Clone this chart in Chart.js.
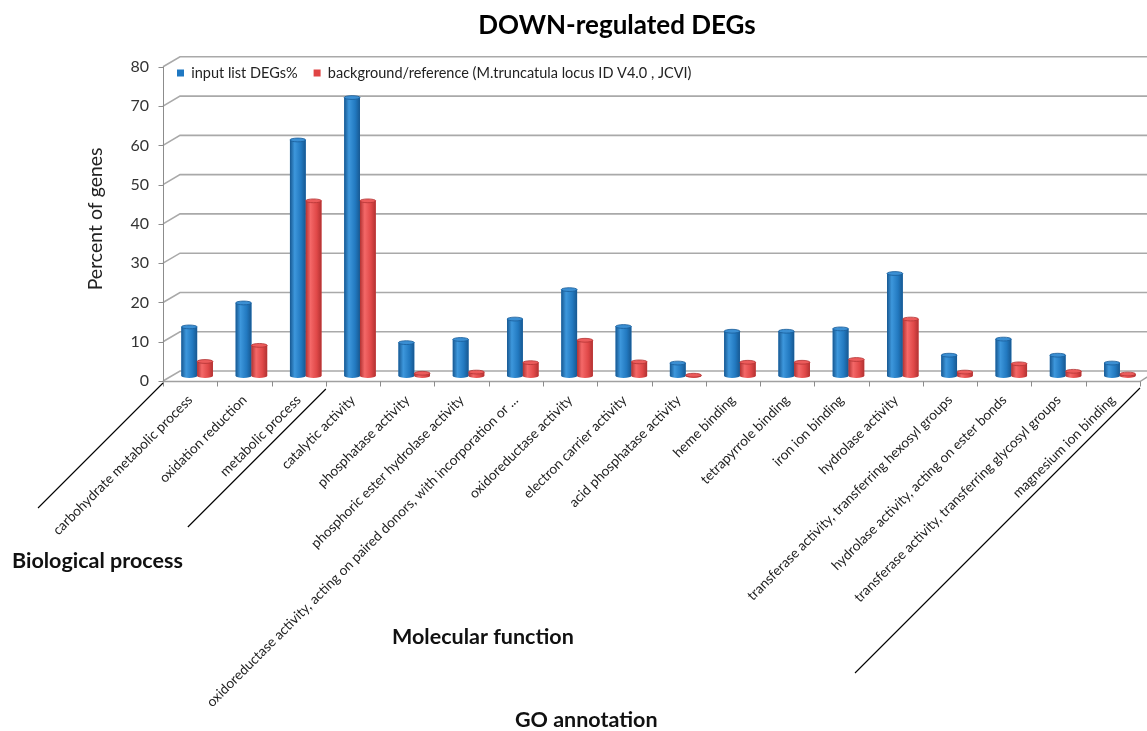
<!DOCTYPE html>
<html>
<head>
<meta charset="utf-8">
<script src="https://cdn.jsdelivr.net/npm/chart.js@4.4.1/dist/chart.umd.min.js"></script>
<style>
  html, body { margin: 0; padding: 0; background: #ffffff; }
  #wrap { width: 1147px; height: 731px; position: relative; }
</style>
</head>
<body>
<div id="wrap"><canvas id="chart" width="1147" height="731"></canvas></div>
<script>
// GO terms on the category axis
const categories = [
  'carbohydrate metabolic process',
  'oxidation reduction',
  'metabolic process',
  'catalytic activity',
  'phosphatase activity',
  'phosphoric ester hydrolase activity',
  'oxidoreductase activity, acting on paired donors, with incorporation or ...',
  'oxidoreductase activity',
  'electron carrier activity',
  'acid phosphatase activity',
  'heme binding',
  'tetrapyrrole binding',
  'iron ion binding',
  'hydrolase activity',
  'transferase activity, transferring hexosyl groups',
  'hydrolase activity, acting on ester bonds',
  'transferase activity, transferring glycosyl groups',
  'magnesium ion binding'
];

// Percent of genes per GO term
const inputListPct = [12.5, 18.6, 60.1, 70.9, 8.5, 9.3, 14.5, 22.0, 12.6, 3.3, 11.4, 11.4, 12.0, 26.1, 5.3, 9.4, 5.3, 3.3];
const backgroundPct = [3.7, 7.8, 44.6, 44.6, 0.7, 1.0, 3.4, 9.1, 3.6, 0.2, 3.5, 3.5, 4.2, 14.5, 1.0, 3.1, 1.2, 0.5];

const seriesNames = ['input list DEGs%', 'background/reference (M.truncatula locus ID V4.0 , JCVI)'];
const yTicks = [0, 10, 20, 30, 40, 50, 60, 70, 80];

// captions under the category axis
const groupNames = ['Biological process', 'Molecular function'];
const axisTitle = 'GO annotation';

const FONT = 'Lato, "Open Sans", "DejaVu Sans", sans-serif';

// shading for the cylinder columns
const palettes = [
  { body: '#2279c0', edge: '#175891', light: '#3d97dc', cap: '#3b8fd3', rim: '#185c98' },
  { body: '#e04848', edge: '#b23232', light: '#f46868', cap: '#ec5b5b', rim: '#b23434' }
];

// oblique depth offsets, relative to the plane the columns stand in
const FRONT = { dx: -7, dy: 5 };
const BACK = { dx: 10, dy: -5 };
// height the category axis keeps below the floor, and room reserved below the canvas
const X_AXIS_SPACE = 355;
const BELOW = 60;

// floor, walls, axis line and category ticks of the oblique frame
const frame3d = {
  id: 'frame3d',
  beforeDatasetsDraw(chart) {
    const { ctx, chartArea: ca } = chart;
    const ys = chart.scales.y, xs = chart.scales.x;
    ctx.save();
    // back wall gridlines with their diagonal connectors
    ctx.lineWidth = 1.6;
    ctx.strokeStyle = '#a9a9a9';
    yTicks.forEach(v => {
      const y = ys.getPixelForValue(v);
      ctx.beginPath();
      ctx.moveTo(ca.left + FRONT.dx, y + FRONT.dy);
      ctx.lineTo(ca.left + BACK.dx, y + BACK.dy);
      ctx.lineTo(ca.right + BACK.dx, y + BACK.dy);
      ctx.stroke();
    });
    // front vertical axis and its tick marks
    ctx.lineWidth = 1;
    ctx.strokeStyle = '#8c8c8c';
    const ax = Math.round(ca.left + FRONT.dx) + 0.5;
    ctx.beginPath();
    ctx.moveTo(ax, ys.getPixelForValue(yTicks[yTicks.length - 1]) + FRONT.dy);
    ctx.lineTo(ax, ys.getPixelForValue(0) + FRONT.dy);
    ctx.stroke();
    yTicks.forEach(v => {
      const y = Math.round(ys.getPixelForValue(v) + FRONT.dy) + 0.5;
      ctx.beginPath();
      ctx.moveTo(ax - 5, y);
      ctx.lineTo(ax, y);
      ctx.stroke();
    });
    // front floor edge
    const fy = Math.round(ys.getPixelForValue(0) + FRONT.dy) + 0.5;
    ctx.lineWidth = 1.4;
    ctx.strokeStyle = '#a0a0a0';
    ctx.beginPath();
    ctx.moveTo(ax, fy);
    ctx.lineTo(ca.right + FRONT.dx, fy);
    ctx.lineTo(ca.right + BACK.dx, ys.getPixelForValue(0) + BACK.dy);
    ctx.stroke();
    // category boundary ticks
    ctx.lineWidth = 1;
    ctx.strokeStyle = '#8c8c8c';
    const n = categories.length;
    const cw = (xs.right - xs.left) / n;
    for (let k = 0; k <= n; k++) {
      const x = Math.round(xs.left + k * cw + FRONT.dx) + 0.5;
      ctx.beginPath();
      ctx.moveTo(x, fy);
      ctx.lineTo(x, fy + 5);
      ctx.stroke();
    }
    ctx.restore();
  }
};

// rounded cylinder shading over each column
const cylinders = {
  id: 'cylinders',
  afterDatasetsDraw(chart) {
    const ctx = chart.ctx;
    ctx.save();
    chart.data.datasets.forEach((ds, di) => {
      const meta = chart.getDatasetMeta(di);
      const pal = palettes[di];
      meta.data.forEach(bar => {
        const { x, y, base, width } = bar.getProps(['x', 'y', 'base', 'width'], true);
        const l = x - width / 2, r = x + width / 2, rx = width / 2, ry = 1.9;
        const g = ctx.createLinearGradient(l, 0, r, 0);
        g.addColorStop(0, pal.edge);
        g.addColorStop(0.3, pal.light);
        g.addColorStop(0.7, pal.body);
        g.addColorStop(1, pal.edge);
        ctx.fillStyle = g;
        ctx.beginPath();
        ctx.moveTo(l, y);
        ctx.lineTo(l, base);
        ctx.ellipse(x, base, rx, ry, 0, Math.PI, 0, true);
        ctx.lineTo(r, y);
        ctx.closePath();
        ctx.fill();
        ctx.beginPath();
        ctx.ellipse(x, y, rx, ry, 0, 0, Math.PI * 2);
        ctx.fillStyle = pal.cap;
        ctx.fill();
        ctx.lineWidth = 0.8;
        ctx.strokeStyle = pal.rim;
        ctx.stroke();
      });
    });
    ctx.restore();
  }
};

// group captions, their separator lines and the axis caption
const groupCaptions = {
  id: 'groupCaptions',
  afterDraw(chart) {
    const { ctx } = chart;
    const xs = chart.scales.x, ys = chart.scales.y;
    const n = categories.length;
    const cw = (xs.right - xs.left) / n;
    const fy = ys.getPixelForValue(0) + FRONT.dy;
    const bx = k => xs.left + k * cw + FRONT.dx;
    ctx.save();
    ctx.strokeStyle = '#000';
    ctx.lineWidth = 1.1;
    // separators run down-left at 45 degrees from a category boundary
    const seps = [
      [0, 2, 125],
      [3, 8, 138],
      [18, 7, 285]
    ];
    seps.forEach(([k, gap, len]) => {
      const x1 = bx(k), y1 = fy + gap;
      ctx.beginPath();
      ctx.moveTo(x1, y1);
      ctx.lineTo(x1 - len, y1 + len);
      ctx.stroke();
    });
    ctx.fillStyle = '#111';
    ctx.font = 'bold 21.5px ' + FONT;
    ctx.textBaseline = 'middle';
    ctx.textAlign = 'left';
    ctx.fillText(groupNames[0], 12, 561);
    ctx.fillText(groupNames[1], 392, 637);
    ctx.fillText(axisTitle, 515, 720);
    ctx.restore();
  }
};

// lift the legend into the top-left corner of the back wall
const legendSpot = {
  id: 'legendSpot',
  afterLayout(chart) {
    const lg = chart.legend;
    if (!lg) return;
    const ca = chart.chartArea;
    const h = lg.height;
    lg.left = ca.left - 9;
    lg.right = ca.right;
    lg.width = lg.right - lg.left;
    lg.top = ca.top - 12;
    lg.bottom = lg.top + h;
  }
};

new Chart(document.getElementById('chart'), {
  type: 'bar',
  data: {
    labels: categories,
    datasets: [
      { label: seriesNames[0], data: inputListPct, backgroundColor: '#1f78c2', borderWidth: 0, categoryPercentage: 0.58, barPercentage: 1 },
      { label: seriesNames[1], data: backgroundPct, backgroundColor: '#e04444', borderWidth: 0, categoryPercentage: 0.58, barPercentage: 1 }
    ]
  },
  options: {
    responsive: false,
    animation: false,
    devicePixelRatio: 1,
    layout: { padding: { left: 84, right: -3, top: 0, bottom: -BELOW } },
    plugins: {
      title: {
        display: true,
        text: 'DOWN-regulated DEGs',
        color: '#000',
        font: { family: FONT, size: 26, weight: 'bold' },
        padding: { top: 9.6, bottom: 21 }
      },
      legend: {
        position: 'bottom',
        align: 'start',
        labels: {
          boxWidth: 7,
          boxHeight: 7,
          padding: 16,
          color: '#222',
          font: { family: FONT, size: 14.5 }
        }
      },
      tooltip: { enabled: false }
    },
    scales: {
      x: {
        grid: { display: false },
        border: { display: false },
        ticks: {
          autoSkip: false,
          minRotation: 45,
          maxRotation: 45,
          padding: 8,
          labelOffset: -7,
          color: '#222',
          font: { family: FONT, size: 13.7 }
        },
        afterFit(scale) {
          const lg = scale.chart.legend;
          scale.height = X_AXIS_SPACE + BELOW - (lg && lg.height ? lg.height : 0);
        }
      },
      y: {
        min: 0,
        max: 80,
        grid: { display: false },
        border: { display: false },
        ticks: {
          stepSize: 10,
          padding: 13,
          labelOffset: 5,
          color: '#333',
          font: { family: FONT, size: 16 }
        },
        title: {
          display: true,
          text: 'Percent of genes',
          color: '#222',
          padding: 0,
          font: { family: FONT, size: 19.5 }
        },
        afterFit(scale) { scale.width = 86; }
      }
    }
  },
  plugins: [frame3d, cylinders, groupCaptions, legendSpot]
});
</script>
</body>
</html>
